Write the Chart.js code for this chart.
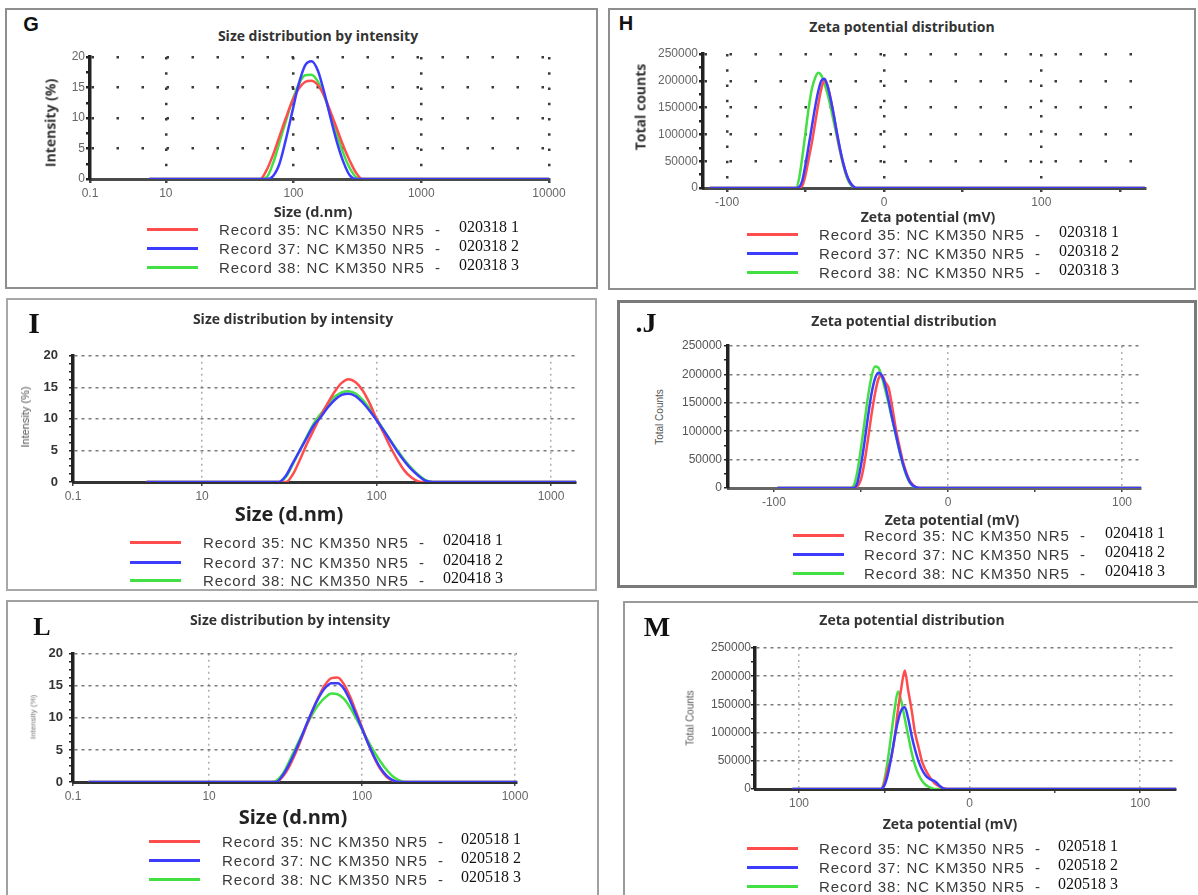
<!DOCTYPE html>
<html>
<head>
<meta charset="utf-8">
<title>DLS size and zeta potential</title>
<script src="https://cdn.jsdelivr.net/npm/chart.js@4/dist/chart.umd.min.js"></script>
<style>
  body { margin:0; background:#fff; width:1198px; height:895px; overflow:hidden; position:relative; font-family:"Liberation Sans", Arial, sans-serif; }
  .box { position:absolute; box-sizing:border-box; border:2px solid #8e8e8e; }
</style>
</head>
<body>
<script>
// ---- shared legend text
var recordNames = ['Record 35: NC KM350 NR5', 'Record 37: NC KM350 NR5', 'Record 38: NC KM350 NR5'];
var codesG = ['020318 1', '020318 2', '020318 3'];
var codesI = ['020418 1', '020418 2', '020418 3'];
var codesL = ['020518 1', '020518 2', '020518 3'];

// ---- G : size distribution (nm)
var sizeG  = [7.4, 50.1, 55.0, 61.7, 69.2, 77.6, 87.1, 97.7, 109.6, 123.0, 138.0, 154.9, 173.8, 195.0, 218.8, 245.5, 275.4, 309.0, 346.7, 10000];
var redG   = [0, 0, 0, 1.5, 4, 7, 10, 12.8, 14.8, 15.9, 16.1, 15.4, 13.6, 11, 8.2, 5.4, 3, 1, 0, 0];
var blueG  = [0, 0, 0, 0, 0.5, 2.5, 6.5, 11, 15.5, 18.6, 19.3, 17.8, 14.2, 10, 6, 2.8, 0.6, 0, 0, 0];
var greenG = [0, 0, 0, 0.3, 2.6, 6, 9.5, 12.8, 15.5, 17, 17.1, 16, 13.6, 10.5, 7.2, 4.2, 1.8, 0.3, 0, 0];
var xTicksG = [2.55, 10, 100, 1000, 10000];
var xLabelsG = ['0.1', '10', '100', '1000', '10000'];

// ---- H : zeta potential (mV)
var zetaH  = [-111, -58, -56, -54, -52, -50, -48, -46, -44, -42, -40, -38, -36, -34, -32, -30, -28, -26, -24, -22, -20, -18, 166];
var redH   = [0, 0, 0, 0, 5000, 25000, 55000, 85000, 120000, 155000, 185000, 200000, 190000, 165000, 135000, 100000, 70000, 45000, 25000, 12000, 4000, 0, 0];
var blueH  = [0, 0, 0, 2000, 15000, 45000, 80000, 115000, 150000, 180000, 200000, 204000, 190000, 165000, 135000, 102000, 72000, 46000, 26000, 12000, 4000, 0, 0];
var greenH = [0, 0, 0, 20000, 60000, 105000, 150000, 185000, 205000, 215000, 210000, 195000, 175000, 150000, 122000, 95000, 67000, 42000, 22000, 9000, 2000, 0, 0];
var xTicksH = [-100, -50, 0, 50, 100, 150];
var xLabelsH = ['-100', '', '0', '', '100', ''];

// ---- I : size distribution (nm)
var sizeI  = [4.8, 27.5, 30.2, 33.1, 36.3, 39.8, 43.7, 47.9, 52.5, 57.5, 63.1, 69.2, 75.9, 83.2, 91.2, 100, 109.6, 120.2, 131.8, 144.5, 158.5, 173.8, 190.5, 208.9, 1390];
var redI   = [0, 0, 0, 1.2, 3.5, 6, 8.3, 10.5, 12.5, 14.3, 15.7, 16.3, 15.8, 14.5, 12.5, 10, 7.8, 5.5, 3.5, 1.8, 0.7, 0.1, 0, 0, 0];
var blueI  = [0, 0, 1, 3, 5, 7, 9, 10.3, 11.8, 13, 13.8, 14, 13.6, 12.6, 11.3, 9.8, 8.2, 6.5, 4.8, 3.3, 2, 1, 0.2, 0, 0];
var greenI = [0, 0, 0.8, 2.8, 5, 7.2, 9.3, 10.8, 12.3, 13.5, 14.2, 14.4, 14, 13, 11.6, 10, 8.3, 6.6, 5, 3.5, 2.2, 1.1, 0.3, 0, 0];
var xTicksI = [1.82, 10, 100, 1000];
var xLabelsI = ['0.1', '10', '100', '1000'];

// ---- J : zeta potential (mV)
var zetaJ  = [-98, -56, -54, -52, -50, -48, -46, -44, -42, -40, -38, -36, -34, -32, -30, -28, -26, -24, -22, -20, -18, -16, 111];
var redJ   = [0, 0, 0, 3000, 15000, 45000, 85000, 128000, 165000, 192000, 198000, 186000, 175000, 142000, 105000, 75000, 48000, 28000, 13000, 5000, 1000, 0, 0];
var blueJ  = [0, 0, 0, 10000, 40000, 80000, 125000, 165000, 192000, 203000, 198000, 180000, 152000, 122000, 95000, 68000, 44000, 25000, 11000, 4000, 1000, 0, 0];
var greenJ = [0, 0, 5000, 30000, 70000, 115000, 160000, 195000, 214000, 212000, 195000, 172000, 147000, 120000, 93000, 66000, 42000, 23000, 10000, 3000, 500, 0, 0];
var xTicksJ = [-100, -50, 0, 50, 100];
var xLabelsJ = ['-100', '', '0', '', '100'];

// ---- L : size distribution (nm)
var sizeL  = [1.63, 25.1, 27.5, 30.2, 33.1, 36.3, 39.8, 43.7, 47.9, 52.5, 57.5, 63.1, 69.2, 75.9, 83.2, 91.2, 100, 109.6, 120.2, 131.8, 144.5, 158.5, 173.8, 190.5, 208.9, 1030];
var redL   = [0, 0, 0, 0.8, 2.2, 4.2, 6.5, 9, 11.4, 13.5, 15.2, 16.2, 16.3, 15.3, 13.4, 11, 8.5, 6, 3.8, 2, 0.8, 0.2, 0, 0, 0, 0];
var blueL  = [0, 0, 0, 1, 2.6, 4.6, 6.8, 9.2, 11.4, 13.3, 14.7, 15.4, 15.4, 14.6, 12.8, 10.6, 8.3, 6, 3.9, 2.2, 1, 0.3, 0, 0, 0, 0];
var greenL = [0, 0, 0.2, 1.2, 3, 5, 7, 9, 10.8, 12.2, 13.2, 13.8, 13.7, 13, 11.7, 10, 8.2, 6.4, 4.7, 3.2, 1.9, 0.9, 0.3, 0, 0, 0];
var xTicksL = [1.29, 10, 100, 1000];
var xLabelsL = ['0.1', '10', '100', '1000'];

// ---- M : zeta potential (mV)
var zetaM  = [-104, -54, -52, -50, -48, -46, -44, -42, -40, -38, -36, -34, -32, -30, -28, -26, -24, -22, -20, -18, -16, -14, -12, 121];
var redM   = [0, 0, 0, 10000, 35000, 55000, 90000, 140000, 180000, 210000, 175000, 140000, 100000, 75000, 50000, 35000, 24000, 15000, 9000, 5000, 2000, 500, 0, 0];
var blueM  = [0, 0, 0, 6000, 25000, 55000, 90000, 120000, 140000, 145000, 125000, 95000, 70000, 50000, 35000, 25000, 19000, 16000, 13000, 7000, 2000, 0, 0, 0];
var greenM = [0, 0, 0, 15000, 50000, 95000, 140000, 173000, 155000, 125000, 95000, 65000, 42000, 26000, 15000, 8000, 4000, 1500, 0, 0, 0, 0, 0, 0];
var xTicksM = [-100, -50, 0, 50, 100];
var xLabelsM = ['100', '', '0', '', '100'];

var RED = '#ff4d4d', BLUE = '#3c3cff', GREEN = '#42e042';
var lineColors = [RED, BLUE, GREEN];

var YW = 60, PT = 12, PR = 45, XH = 30;

function box(l, t, w, h, css) {
  var d = document.createElement('div');
  d.className = 'box';
  d.style.cssText = 'left:' + l + 'px;top:' + t + 'px;width:' + w + 'px;height:' + h + 'px;' + (css || '');
  document.body.appendChild(d);
}

function label(txt, x, y, css) {
  var d = document.createElement('div');
  d.textContent = txt;
  d.style.cssText = 'position:absolute;white-space:pre;line-height:1;left:' + x + 'px;top:' + y + 'px;transform:translate(-50%,-50%);' + (css || '');
  document.body.appendChild(d);
  return d;
}

function legend(lineX, textX, numX, ys, codes) {
  for (var i = 0; i < 3; i++) {
    var ln = document.createElement('div');
    ln.style.cssText = 'position:absolute;left:' + lineX + 'px;top:' + (ys[i] - 1.5) + 'px;width:51px;height:3px;background:' + lineColors[i];
    document.body.appendChild(ln);
    label(recordNames[i] + '  -', textX, ys[i], 'transform:translate(0,-50%);font-size:15px;letter-spacing:0.9px;color:#3a3a3a');
    label(codes[i], numX, ys[i] - 2, 'transform:translate(0,-50%);font:16px "Liberation Serif";color:#111');
  }
}

// one chart per panel, canvas sized so the plot area lands on a.l/a.r/a.t/a.b
function plot(a, xs, reds, blues, greens, o) {
  var c = document.createElement('canvas');
  var w = a.r - a.l + YW + PR, h = a.b - a.t + PT + XH;
  c.width = w; c.height = h;
  c.style.cssText = 'position:absolute;left:' + (a.l - YW) + 'px;top:' + (a.t - PT) + 'px;width:' + w + 'px;height:' + h + 'px';
  document.body.appendChild(c);
  function pts(ys) { return xs.map(function (x, i) { return {x: x, y: ys[i]}; }); }
  var none = 'rgba(0,0,0,0)';
  new Chart(c, {
    type: 'line',
    data: {
      datasets: [
        {data: pts(blues), borderColor: BLUE, order: 0},
        {data: pts(reds), borderColor: RED, order: 1},
        {data: pts(greens), borderColor: GREEN, order: 2}
      ]
    },
    options: {
      responsive: false,
      animation: false,
      layout: {padding: {top: PT, right: PR, left: 0, bottom: 0}},
      elements: {
        point: {radius: 0},
        line: {borderWidth: 2.5, cubicInterpolationMode: 'monotone'}
      },
      plugins: {legend: {display: false}, tooltip: {enabled: false}},
      scales: {
        x: {
          type: o.xType, min: o.xMin, max: o.xMax,
          afterBuildTicks: function (s) { s.ticks = o.xTicks.map(function (v) { return {value: v}; }); },
          afterFit: function (s) { s.height = XH; },
          ticks: {
            autoSkip: false, maxRotation: 0, minRotation: 0, padding: 3,
            color: '#666', font: {size: 12, family: 'Liberation Sans'},
            callback: function (v, i) { return o.xLabels[i]; }
          },
          grid: {
            color: function (ctx) { return o.xGrid.indexOf(ctx.tick.value) >= 0 ? o.xGridColor : none; },
            lineWidth: o.gridWidth, tickLength: 4, tickColor: '#444'
          },
          border: {color: o.xAxisColor, width: 3, dash: o.xDash}
        },
        y: {
          min: 0, max: o.yMax,
          afterFit: function (s) { s.width = YW; },
          ticks: {
            stepSize: o.yStep, autoSkip: false, padding: o.yPad,
            color: o.yTickColor, font: {size: o.yTickSize, family: 'Liberation Sans', weight: o.yTickWeight},
            callback: function (v) { return v % o.yLab === 0 ? String(v) : ''; }
          },
          grid: {
            color: function (ctx) { var v = ctx.tick.value; return (v % o.yLab === 0 && v > 0) ? o.yGridColor : none; },
            lineWidth: o.gridWidth, tickLength: 4, tickColor: '#222'
          },
          border: {color: '#222', width: 3.5, dash: o.yDash}
        }
      }
    }
  });
}

var dotted = {gridWidth: 2.5, xGridColor: '#3a3a3a', yGridColor: '#3a3a3a', xDash: [2.5, 12.75], yDash: [2.5, 22.5], xAxisColor: '#4a4a4a',
              yTickColor: '#666', yTickSize: 12, yTickWeight: 'normal'};
var dashed = {gridWidth: 1.5, xGridColor: '#b0b0b0', yGridColor: '#7a7a7a', xDash: [2, 4], yDash: [3, 4], xAxisColor: '#333'};
function merge(a, b) { var r = {}, k; for (k in a) r[k] = a[k]; for (k in b) r[k] = b[k]; return r; }

// ---- panel frames
box(5, 8, 593, 281);
box(608, 8, 588, 282);
box(6, 298, 591, 293, 'border-color:#a8a8a8');
box(617, 300, 580, 288, 'border-color:#7a7a7a;border-width:3px');
box(6, 600, 593, 310, 'border-color:#a0a0a0');
box(623, 601, 600, 310, 'border-color:#9a9a9a');

var titleCss = 'font:bold 14px "Open Sans";color:#333';

// ---- G
plot({l: 90, r: 549, t: 57, b: 179}, sizeG, redG, blueG, greenG, merge(dotted, {
  xType: 'logarithmic', xMin: 2.55, xMax: 10000, xTicks: xTicksG, xLabels: xLabelsG, xGrid: [10, 100, 1000, 10000],
  yMax: 20, yStep: 2.5, yLab: 5, yPad: 1
}));
label('G', 31, 24, 'font:bold 20px "Liberation Sans";color:#111');
label('Size distribution by intensity', 318, 35, titleCss);
label('Intensity (%)', 50, 123, 'font:bold 14px "Open Sans";color:#333;transform:translate(-50%,-50%) rotate(-90deg)');
label('Size (d.nm)', 313, 211, 'font:bold 14.5px "Open Sans";color:#333');
legend(147, 219, 459, [229, 248, 267], codesG);

// ---- H
plot({l: 703, r: 1145, t: 54, b: 188}, zetaH, redH, blueH, greenH, merge(dotted, {
  xType: 'linear', xMin: -115.3, xMax: 166, xTicks: xTicksH, xLabels: xLabelsH, xGrid: [-100, 0, 100],
  yMax: 250000, yStep: 25000, yLab: 50000, yPad: 1
}));
label('H', 626, 23, 'font:bold 20px "Liberation Sans";color:#111');
label('Zeta potential distribution', 902, 26, titleCss);
label('Total counts', 640, 107, 'font:bold 14px "Open Sans";color:#333;transform:translate(-50%,-50%) rotate(-90deg)');
label('Zeta potential (mV)', 928, 216, 'font:bold 14px "Open Sans";color:#333');
legend(747, 819, 1059, [234, 253, 272], codesG);

// ---- I
plot({l: 73, r: 576, t: 349, b: 482}, sizeI, redI, blueI, greenI, merge(dashed, {
  xType: 'logarithmic', xMin: 1.82, xMax: 1390, xTicks: xTicksI, xLabels: xLabelsI, xGrid: [10, 100, 1000],
  yMax: 20, yStep: 1.25, yLab: 5, yPad: 11, yTickColor: '#333', yTickSize: 13, yTickWeight: 'bold'
}));
label('I', 34, 323, 'font:bold 30px "Liberation Serif";color:#111');
label('Size distribution by intensity', 293, 318, titleCss);
label('Intensity (%)', 25, 417, 'font:11px "Liberation Sans";color:#555;transform:translate(-50%,-50%) rotate(-90deg)');
label('Size (d.nm)', 289, 513, 'font:bold 20px "Open Sans";color:#222');
legend(130, 203, 443, [542, 562, 580], codesI);

// ---- J
plot({l: 728, r: 1141, t: 346, b: 488}, zetaJ, redJ, blueJ, greenJ, merge(dashed, {
  xType: 'linear', xMin: -126.4, xMax: 110.9, xTicks: xTicksJ, xLabels: xLabelsJ, xGrid: [0, 100],
  yMax: 250000, yStep: 25000, yLab: 50000, yPad: 2, yTickColor: '#555', yTickSize: 12, yTickWeight: 'normal', xAxisColor: '#666'
}));
label('.J', 646, 323, 'font:bold 28px "Liberation Serif";color:#111');
label('Zeta potential distribution', 904, 320, titleCss);
label('Total Counts', 659, 417, 'font:10px "Liberation Sans";color:#555;transform:translate(-50%,-50%) rotate(-90deg)');
label('Zeta potential (mV)', 952, 519, 'font:bold 14px "Open Sans";color:#333');
legend(793, 864, 1105, [535, 554, 573], codesI);

// ---- L
plot({l: 73, r: 517, t: 652, b: 782}, sizeL, redL, blueL, greenL, merge(dashed, {
  xType: 'logarithmic', xMin: 1.29, xMax: 1030, xTicks: xTicksL, xLabels: xLabelsL, xGrid: [10, 100, 1000],
  yMax: 20, yStep: 1.25, yLab: 5, yPad: 6, yTickColor: '#333', yTickSize: 13, yTickWeight: 'bold'
}));
label('L', 42, 627, 'font:bold 26px "Liberation Serif";color:#111');
label('Size distribution by intensity', 290, 619, titleCss);
label('Intensity (%)', 33, 717, 'font:8px "Liberation Sans";color:#777;transform:translate(-50%,-50%) rotate(-90deg)');
label('Size (d.nm)', 293, 816, 'font:bold 20px "Open Sans";color:#222');
legend(149, 222, 461, [841, 860, 879], codesL);

// ---- M
plot({l: 755, r: 1176, t: 648, b: 789}, zetaM, redM, blueM, greenM, merge(dashed, {
  xType: 'linear', xMin: -125.8, xMax: 121, xTicks: xTicksM, xLabels: xLabelsM, xGrid: [-100, 0, 100],
  yMax: 250000, yStep: 25000, yLab: 50000, yPad: 0, yTickColor: '#555', yTickSize: 12, yTickWeight: 'normal'
}));
label('M', 657, 627, 'font:bold 28px "Liberation Serif";color:#111');
label('Zeta potential distribution', 912, 619, titleCss);
label('Total Counts', 690, 718, 'font:10px "Liberation Sans";color:#555;transform:translate(-50%,-50%) rotate(-90deg)');
label('Zeta potential (mV)', 950, 823, 'font:bold 14px "Open Sans";color:#333');
legend(747, 819, 1058, [848, 867, 886], codesL);
</script>
</body>
</html>
